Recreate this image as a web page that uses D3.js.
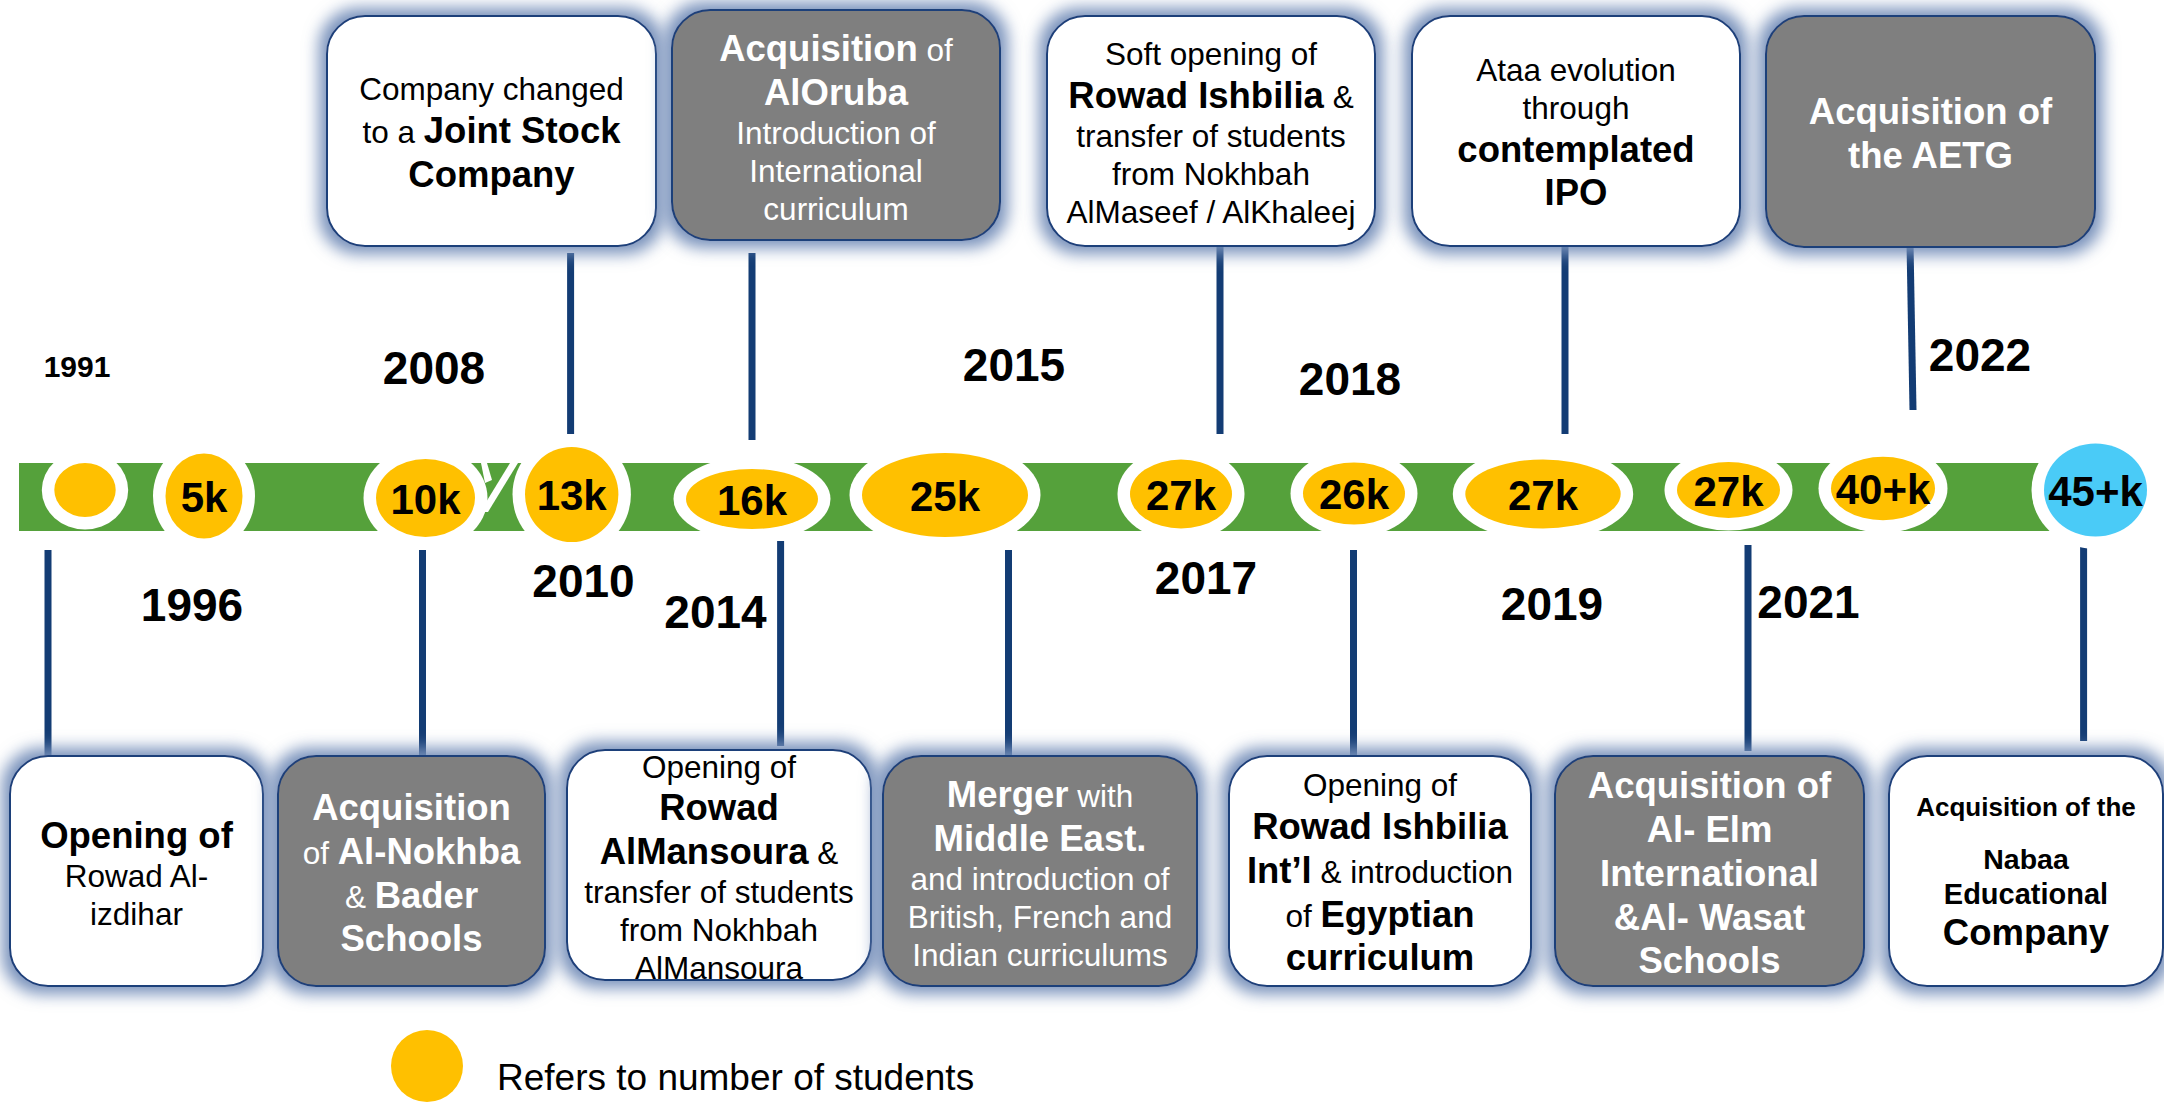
<!DOCTYPE html>
<html>
<head>
<meta charset="utf-8">
<script src="https://cdn.jsdelivr.net/npm/d3@7"></script>
<style>
html, body { margin: 0; padding: 0; background: #fff; }
svg { display: block; font-family: "Liberation Sans", Arial, Helvetica, sans-serif; }
text { white-space: pre; }
</style>
</head>
<body>
<svg id="chart" width="2164" height="1102"></svg>
<script>
// ---- data ----
var milestoneKeys = ["1991", "1996", "2008", "2010", "2014", "2015", "2017", "2018", "2019", "2021", "2022", "today"];
var studentLabels = ["", "5k", "10k", "13k", "16k", "25k", "27k", "26k", "27k", "27k", "40+k", "45+k"];
var studentKind   = ["past", "past", "past", "past", "past", "past", "past", "past", "past", "past", "past", "current"];

var years    = ["1991", "1996", "2008", "2010", "2014", "2015", "2017", "2018", "2019", "2021", "2022"];
var yearSide = ["top", "bottom", "top", "bottom", "bottom", "top", "bottom", "top", "bottom", "bottom", "top"];

// events above the track  (**bold**)
var topEvents = [
    ["Company changed", "to a **Joint Stock**", "**Company**"],
    ["**Acquisition** of", "**AlOruba**", "Introduction of", "International", "curriculum"],
    ["Soft opening of", "**Rowad Ishbilia** &", "transfer of students", "from Nokhbah", "AlMaseef / AlKhaleej"],
    ["Ataa evolution", "through", "**contemplated**", "**IPO**"],
    ["**Acquisition of**", "**the AETG**"]
];
var topEventKind = ["plain", "acquisition", "plain", "plain", "acquisition"];

// events below the track
var bottomEvents = [
    ["**Opening of**", "Rowad Al-", "izdihar"],
    ["**Acquisition**", "of **Al-Nokhba**", "& **Bader**", "**Schools**"],
    ["Opening of", "**Rowad**", "**AlMansoura** &", "transfer of students", "from Nokhbah", "AlMansoura"],
    ["**Merger** with", "**Middle East.**", "and introduction of", "British, French and", "Indian curriculums"],
    ["Opening of", "**Rowad Ishbilia**", "**Int\u2019l** & introduction", "of **Egyptian**", "**curriculum**"],
    ["**Acquisition of**", "**Al- Elm**", "**International**", "**&Al- Wasat**", "**Schools**"],
    ["**Acquisition of the**", "", "**Nabaa**", "**Educational**", "**Company**"]
];
var bottomEventKind = ["plain", "acquisition", "plain", "acquisition", "plain", "acquisition", "plain"];

var legendText = "Refers to number of students";

// ---- layout ----
var W = 2164, H = 1102;
var band = { x0: 19, x1: 2050, y0: 463, y1: 531 };

var trackX = d3.scaleOrdinal().domain(milestoneKeys)
    .range([85, 204, 425.5, 571.7, 752, 945, 1181, 1354, 1543, 1728.5, 1883, 2095.5]);
var bubbleShape = [
    { cy: 490, rx: 30.7, ry: 27 },   { cy: 496, rx: 38.5, ry: 42.5 },
    { cy: 498, rx: 49.5, ry: 39 },   { cy: 494.5, rx: 46.7, ry: 47.5 },
    { cy: 499, rx: 66, ry: 30 },     { cy: 495, rx: 83, ry: 42 },
    { cy: 494, rx: 51, ry: 34.5 },   { cy: 493.5, rx: 51, ry: 31 },
    { cy: 494, rx: 77.7, ry: 34.5 }, { cy: 490, rx: 51.5, ry: 28 },
    { cy: 488.5, rx: 52, ry: 31.7 }, { cy: 490, rx: 51.5, ry: 46.5 }
];
var RING = 12.5;

var yearX = d3.scaleOrdinal().domain(years)
    .range([77, 192, 434, 583.5, 715.5, 1014, 1206, 1350, 1552, 1808.5, 1980]);
var yearBase = [377, 620.5, 384, 597, 628, 381, 594, 394.5, 620, 618, 371];
var yearSize = [30, 46, 46, 46, 46, 46, 46, 46, 46, 46, 46];

var topBoxes = [
    { x0: 327, x1: 656, y0: 16, y1: 246, line: [570.6, 253, 570.6, 434] },
    { x0: 672, x1: 1000, y0: 10, y1: 240, line: [752, 253, 752, 440] },
    { x0: 1047, x1: 1375, y0: 16, y1: 246, line: [1220, 246, 1220, 434] },
    { x0: 1412, x1: 1740, y0: 16, y1: 246, line: [1565, 246, 1565, 434] },
    { x0: 1766, x1: 2095, y0: 16, y1: 247, line: [1910, 243, 1913, 410] }
];
var bottomBoxes = [
    { x0: 10, x1: 263, y0: 756, y1: 986, line: [48, 550, 48, 756] },
    { x0: 278, x1: 545, y0: 756, y1: 986, line: [422.5, 550, 422.5, 756] },
    { x0: 567, x1: 871, y0: 750, y1: 980, line: [780.6, 541, 780.6, 746] },
    { x0: 883, x1: 1197, y0: 756, y1: 986, line: [1008.5, 550, 1008.5, 756] },
    { x0: 1229, x1: 1531, y0: 756, y1: 986, line: [1353.5, 550, 1353.5, 756] },
    { x0: 1555, x1: 1864, y0: 756, y1: 986, line: [1748, 545, 1748, 751] },
    { x0: 1889, x1: 2163, y0: 756, y1: 986, line: [2083.6, 535, 2083.6, 741], sizes: [26, 16, 28.5, 29, 36.5] }
];

var REG = 31.5, BOLD = 36.5;
var fillColor = { plain: "#ffffff", acquisition: "#7f7f7f" };
var textColor = { plain: "#000000", acquisition: "#ffffff" };
var bubbleColor = { past: "#ffc000", current: "#4acbf7" };
var GREEN = "#55a13b", NAVY = "#133c74";

// ---- drawing ----
var svg = d3.select("#chart");
svg.append("rect").attr("width", W).attr("height", H).attr("fill", "#fff");

var defs = svg.append("defs");
var glow = defs.append("filter").attr("id", "glow")
    .attr("x", "-25%").attr("y", "-25%").attr("width", "150%").attr("height", "150%");
glow.append("feMorphology").attr("in", "SourceAlpha").attr("operator", "dilate").attr("radius", 7).attr("result", "d");
glow.append("feGaussianBlur").attr("in", "d").attr("stdDeviation", 8).attr("result", "b");
glow.append("feFlood").attr("flood-color", "#7891bb").attr("flood-opacity", 1);
glow.append("feComposite").attr("in2", "b").attr("operator", "in").attr("result", "g");
var merge = glow.append("feMerge");
merge.append("feMergeNode").attr("in", "g");
merge.append("feMergeNode").attr("in", "SourceGraphic");

function segments(line) {
    return line.split("**").map(function(t, i) {
        return { t: t, bold: i % 2 === 1 };
    }).filter(function(s) { return s.t.length; });
}

function drawEvents(events, kinds, boxes, name) {
    var groups = svg.selectAll("g." + name).data(events).enter().append("g").attr("class", name);

    groups.each(function(lines, i) {
        var g = d3.select(this);
        var box = boxes[i];
        var kind = kinds[i];
        var cx = (box.x0 + box.x1) / 2, cy = (box.y0 + box.y1) / 2;

        g.append("rect")
            .attr("x", box.x0).attr("y", box.y0)
            .attr("width", box.x1 - box.x0).attr("height", box.y1 - box.y0)
            .attr("rx", 38).attr("ry", 38)
            .attr("fill", fillColor[kind])
            .attr("stroke", "#1f3f7a").attr("stroke-width", 2)
            .attr("filter", "url(#glow)");

        var clipId = name + "-clip-" + i;
        defs.append("clipPath").attr("id", clipId).append("rect")
            .attr("x", box.x0).attr("y", box.y0)
            .attr("width", box.x1 - box.x0).attr("height", box.y1 - box.y0)
            .attr("rx", 38).attr("ry", 38);

        var rows = lines.map(function(l, j) {
            var segs = segments(l);
            var fs = box.sizes ? box.sizes[j] :
                d3.max(segs, function(s) { return s.bold ? BOLD : REG; }) || REG;
            return { segs: segs, fs: fs, h: 1.2 * fs };
        });
        var y = cy - d3.sum(rows, function(r) { return r.h; }) / 2 + 2;
        rows.forEach(function(r) { r.base = y + r.h / 2 + 0.35 * r.fs; y += r.h; });

        var txt = g.append("g").attr("clip-path", "url(#" + clipId + ")")
            .selectAll("text").data(rows).enter().append("text")
            .attr("x", cx).attr("y", function(r) { return r.base; })
            .attr("text-anchor", "middle")
            .attr("fill", textColor[kind]);
        txt.selectAll("tspan").data(function(r) {
            return r.segs.map(function(s) { return { t: s.t, bold: s.bold, fs: box.sizes ? r.fs : null }; });
        }).enter().append("tspan")
            .attr("font-weight", function(s) { return s.bold ? "bold" : "normal"; })
            .attr("font-size", function(s) { return s.fs || (s.bold ? BOLD : REG); })
            .text(function(s) { return s.t; });
    });
}

// connectors
function drawConnectors(boxes) {
    svg.append("g").selectAll("line").data(boxes).enter().append("line")
        .attr("x1", function(b) { return b.line[0]; }).attr("y1", function(b) { return b.line[1]; })
        .attr("x2", function(b) { return b.line[2]; }).attr("y2", function(b) { return b.line[3]; })
        .attr("stroke", NAVY).attr("stroke-width", 7);
}
drawConnectors(topBoxes);
drawConnectors(bottomBoxes);

// track
svg.append("rect")
    .attr("x", band.x0).attr("y", band.y0)
    .attr("width", band.x1 - band.x0).attr("height", band.y1 - band.y0)
    .attr("fill", GREEN);

// break mark between 2008 and 2010
svg.append("g").selectAll("polygon").data([
    [[481, band.y0], [487, band.y0], [492, 480], [485, 483]],
    [[510, band.y0], [518, band.y0], [488, 512], [480, 512]]
]).enter().append("polygon")
    .attr("points", function(p) { return p.join(" "); })
    .attr("fill", "#fff");

var bubbles = svg.append("g").selectAll("g").data(milestoneKeys).enter().append("g");
bubbles.append("ellipse")
    .attr("cx", function(k) { return trackX(k); })
    .attr("cy", function(k, i) { return bubbleShape[i].cy; })
    .attr("rx", function(k, i) { return bubbleShape[i].rx + RING; })
    .attr("ry", function(k, i) { return bubbleShape[i].ry + RING; })
    .attr("fill", "#fff");
bubbles.append("ellipse")
    .attr("cx", function(k) { return trackX(k); })
    .attr("cy", function(k, i) { return bubbleShape[i].cy; })
    .attr("rx", function(k, i) { return bubbleShape[i].rx; })
    .attr("ry", function(k, i) { return bubbleShape[i].ry; })
    .attr("fill", function(k, i) { return bubbleColor[studentKind[i]]; });
bubbles.append("text")
    .attr("x", function(k) { return trackX(k); })
    .attr("y", function(k, i) { return bubbleShape[i].cy + 15.5; })
    .attr("text-anchor", "middle")
    .attr("font-weight", "bold").attr("font-size", 42)
    .text(function(k, i) { return studentLabels[i]; });

// year labels
svg.append("g").selectAll("text").data(years).enter().append("text")
    .attr("class", function(d, i) { return "year " + yearSide[i]; })
    .attr("x", function(d) { return yearX(d); })
    .attr("y", function(d, i) { return yearBase[i]; })
    .attr("text-anchor", "middle")
    .attr("font-weight", "bold")
    .attr("font-size", function(d, i) { return yearSize[i]; })
    .text(function(d) { return d; });

drawEvents(topEvents, topEventKind, topBoxes, "top-event");
drawEvents(bottomEvents, bottomEventKind, bottomBoxes, "bottom-event");

// legend
var legend = svg.append("g");
legend.append("ellipse").attr("cx", 427).attr("cy", 1066).attr("rx", 36).attr("ry", 36)
    .attr("fill", bubbleColor.past);
legend.append("text").attr("x", 497).attr("y", 1090).attr("font-size", 37)
    .text(legendText);
</script>
</body>
</html>
